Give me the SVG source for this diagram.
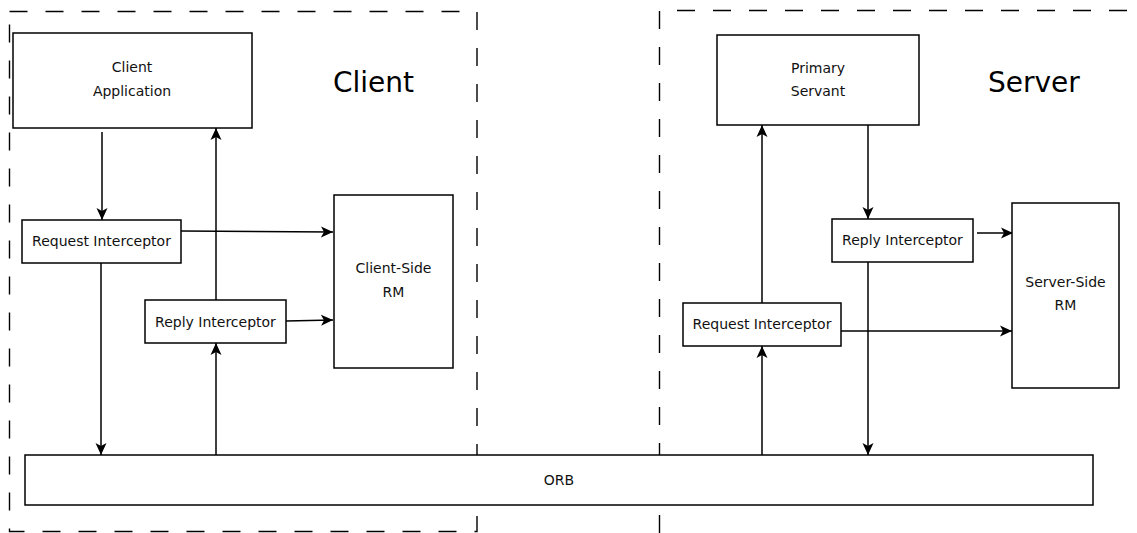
<svg xmlns="http://www.w3.org/2000/svg" width="1137" height="533" viewBox="0 0 1137 533">
<style>
.box{fill:#fff;stroke:#000;stroke-width:1.5}
.zone{fill:none;stroke:#000;stroke-width:1.4;stroke-dasharray:18 18}
.t{font-family:"DejaVu Sans",sans-serif;font-size:14px;fill:#111;text-anchor:middle}
.big{font-family:"DejaVu Sans",sans-serif;font-size:28px;fill:#000}
.c{fill:none;stroke:#000;stroke-width:1.5;marker-end:url(#ah)}
</style>
<defs>
<marker id="ah" markerUnits="userSpaceOnUse" markerWidth="14" markerHeight="14" refX="12" refY="6" orient="auto" viewBox="0 0 14 12">
<path d="M12,6 L0,0.5 L3,6 L0,11.5 Z" fill="#000"/>
</marker>
</defs>
<g id="client-zone">
<rect class="zone" x="9.5" y="11.5" width="467.5" height="520"/>
<text class="big" x="333" y="92">Client</text>
</g>
<g id="server-zone">
<path class="zone" d="M659.5,533 V10.5 H1137"/>
<text class="big" x="988" y="92">Server</text>
</g>
<g id="connectors">
<line class="c" x1="102" y1="132" x2="102" y2="220"/>
<line class="c" x1="216" y1="300" x2="216" y2="128"/>
<line class="c" x1="181" y1="231" x2="333" y2="232"/>
<line class="c" x1="286" y1="321" x2="333" y2="320"/>
<line class="c" x1="101" y1="263" x2="101" y2="455"/>
<line class="c" x1="216" y1="455" x2="216" y2="343"/>
<line class="c" x1="868" y1="125" x2="868" y2="219"/>
<line class="c" x1="977" y1="233" x2="1013" y2="233"/>
<line class="c" x1="762" y1="303" x2="762" y2="125"/>
<line class="c" x1="762" y1="455" x2="762" y2="346"/>
<line class="c" x1="841" y1="331" x2="1012" y2="331"/>
<line class="c" x1="868" y1="262" x2="868" y2="455"/>
</g>
<g id="client-application">
<rect class="box" x="13" y="33" width="239" height="95"/>
<text class="t" x="132" y="72">Client</text>
<text class="t" x="132" y="96">Application</text>
</g>
<g id="client-request-interceptor">
<rect class="box" x="22" y="220" width="159" height="43"/>
<text class="t" x="101.5" y="246">Request Interceptor</text>
</g>
<g id="client-reply-interceptor">
<rect class="box" x="145" y="300" width="141" height="43"/>
<text class="t" x="215.5" y="327">Reply Interceptor</text>
</g>
<g id="client-side-rm">
<rect class="box" x="334" y="195" width="119" height="173"/>
<text class="t" x="393.5" y="273">Client-Side</text>
<text class="t" x="393.5" y="297">RM</text>
</g>
<g id="primary-servant">
<rect class="box" x="717" y="35" width="202" height="90"/>
<text class="t" x="818" y="73">Primary</text>
<text class="t" x="818" y="96">Servant</text>
</g>
<g id="server-reply-interceptor">
<rect class="box" x="832" y="219" width="141" height="43"/>
<text class="t" x="902.5" y="245">Reply Interceptor</text>
</g>
<g id="server-request-interceptor">
<rect class="box" x="683" y="303" width="158" height="43"/>
<text class="t" x="762" y="329">Request Interceptor</text>
</g>
<g id="server-side-rm">
<rect class="box" x="1012" y="203" width="107" height="185"/>
<text class="t" x="1065.5" y="287">Server-Side</text>
<text class="t" x="1065.5" y="310">RM</text>
</g>
<g id="orb">
<rect class="box" x="25" y="455" width="1068" height="50"/>
<text class="t" x="559" y="485">ORB</text>
</g>
</svg>
